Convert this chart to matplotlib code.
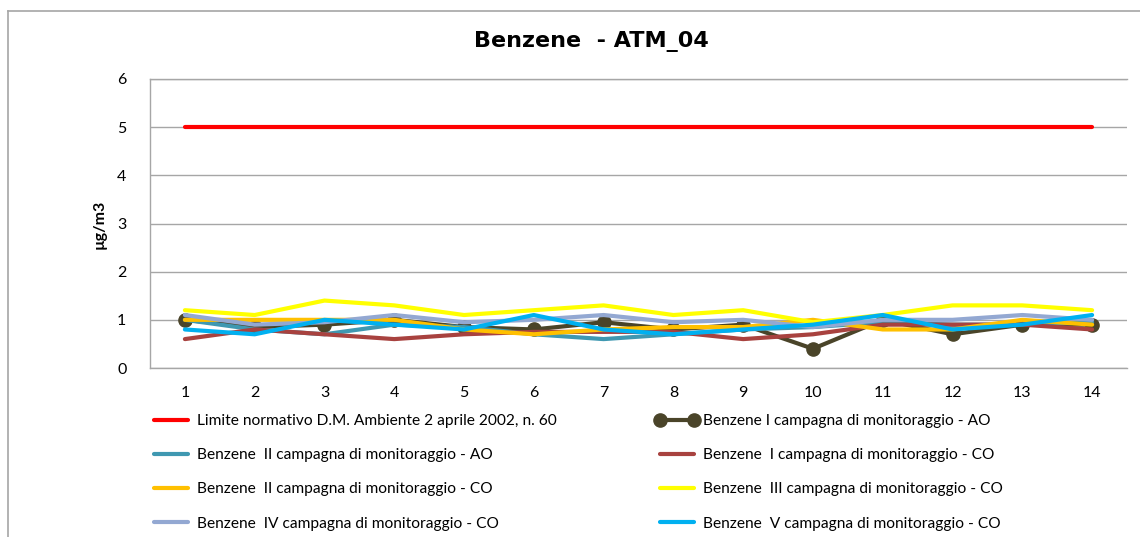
import matplotlib
matplotlib.use("Agg")
import matplotlib.pyplot as plt
from matplotlib.lines import Line2D

# ---- data -------------------------------------------------------------
giorni = [1, 2, 3, 4, 5, 6, 7, 8, 9, 10, 11, 12, 13, 14]
limite = [5] * 14
b1_ao = [1.0, 0.85, 0.9, 1.0, 0.85, 0.8, 0.95, 0.8, 0.9, 0.4, 1.0, 0.7, 0.9, 0.9]
b2_ao = [1.0, 0.8, 0.7, 0.9, 0.85, 0.7, 0.6, 0.7, 0.8, 0.85, 0.95, 0.9, 0.9, 0.95]
b1_co = [0.6, 0.8, 0.7, 0.6, 0.7, 0.75, 0.75, 0.75, 0.6, 0.7, 0.9, 0.9, 0.9, 0.8]
b2_co = [1.0, 1.0, 1.0, 1.0, 0.8, 0.7, 0.8, 0.85, 0.85, 1.0, 0.8, 0.8, 1.0, 0.9]
b3_co = [1.2, 1.1, 1.4, 1.3, 1.1, 1.2, 1.3, 1.1, 1.2, 0.95, 1.1, 1.3, 1.3, 1.2]
b4_co = [1.1, 0.9, 0.95, 1.1, 0.95, 1.0, 1.1, 0.95, 1.0, 0.85, 1.0, 1.0, 1.1, 1.0]
b5_co = [0.8, 0.7, 1.0, 0.9, 0.8, 1.1, 0.8, 0.7, 0.8, 0.9, 1.1, 0.8, 0.9, 1.1]

etichette = [
    "Limite normativo D.M. Ambiente 2 aprile 2002, n. 60",
    "Benzene I campagna di monitoraggio - AO",
    "Benzene  II campagna di monitoraggio - AO",
    "Benzene  I campagna di monitoraggio - CO",
    "Benzene  II campagna di monitoraggio - CO",
    "Benzene  III campagna di monitoraggio - CO",
    "Benzene  IV campagna di monitoraggio - CO",
    "Benzene  V campagna di monitoraggio - CO",
]
colori = ["#FF0000", "#4A4429", "#3F98B1", "#A8423F", "#FFC000",
          "#FFFF00", "#93A8D2", "#00B0F0"]
serie = [limite, b1_ao, b2_ao, b1_co, b2_co, b3_co, b4_co, b5_co]

# ---- figure -----------------------------------------------------------
W, H = 1140, 537
DPI = 100
plt.rcParams["font.family"] = ["Lato", "DejaVu Sans"]
fig = plt.figure(figsize=(W / DPI, H / DPI), dpi=DPI)

def fx(px):
    return px / W

def fy(py):
    return 1 - py / H

# outer chart frame: only the top and left edges fall inside the image
frame_c = "#A6A6A6"
fig.add_artist(Line2D([fx(8), 1.0], [fy(11), fy(11)], color=frame_c,
                      lw=1.2, transform=fig.transFigure))
fig.add_artist(Line2D([fx(8), fx(8)], [fy(11), 0.0], color=frame_c,
                      lw=1.2, transform=fig.transFigure))

ax_l, ax_r, ax_t, ax_b = 150, 1127, 79, 368
ax = fig.add_axes([fx(ax_l), fy(ax_b), (ax_r - ax_l) / W, (ax_b - ax_t) / H])

grid_c = "#A6A6A6"
handles = []
for vals, lab, col in zip(serie, etichette, colori):
    if lab.startswith("Benzene I campagna"):
        h, = ax.plot(giorni, vals, color=col, lw=3.0, marker="o",
                     markersize=9.5, label=lab, solid_capstyle="round")
    else:
        h, = ax.plot(giorni, vals, color=col, lw=3.0, label=lab,
                     solid_capstyle="round")
    handles.append(h)

ax.set_xlim(0.5, 14.5)
ax.set_ylim(0, 6)
ax.set_yticks(range(0, 7))
ax.set_xticks(giorni)
ax.yaxis.grid(True, color=grid_c, lw=1.0)
ax.set_axisbelow(True)
for s in ("left", "bottom", "top"):
    ax.spines[s].set_color(grid_c)
    ax.spines[s].set_linewidth(1.0)
ax.spines["right"].set_visible(False)
ax.tick_params(axis="y", length=0, pad=17, labelsize=11.5)
ax.tick_params(axis="x", length=0, pad=13, labelsize=11.5)

fig.text(fx(591), fy(41), "Benzene  - ATM_04", ha="center", va="center",
         fontsize=16, fontweight="bold", family="DejaVu Sans")
fig.text(fx(100), fy(224), "µg/m3", ha="center", va="center",
         rotation=90, fontsize=11.5, fontweight="bold")

# legend in two columns, row-major order
col1 = [handles[i] for i in (0, 2, 4, 6)]
col2 = [handles[i] for i in (1, 3, 5, 7)]
common = dict(frameon=False, fontsize=11.2, handlelength=2.8,
              handletextpad=0.3, labelspacing=1.3, borderpad=0,
              borderaxespad=0, loc="upper left", numpoints=2)
leg1 = fig.legend(handles=col1, labels=[h.get_label() for h in col1],
                  bbox_to_anchor=(fx(149), fy(414)), **common)
leg2 = fig.legend(handles=col2, labels=[h.get_label() for h in col2],
                  bbox_to_anchor=(fx(655), fy(414)), **common)

fig.savefig("out.png", dpi=DPI)
